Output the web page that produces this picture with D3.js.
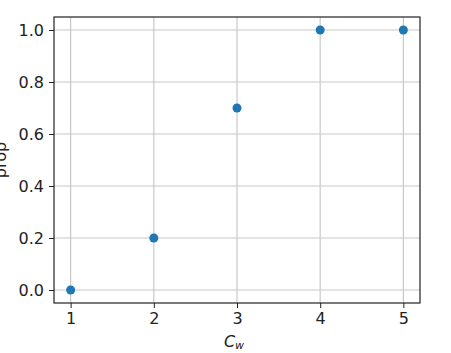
<!DOCTYPE html>
<html>
<head>
<meta charset="utf-8">
<script src="https://cdn.jsdelivr.net/npm/d3@7"></script>
<style>
  body { margin: 0; background: #fff; }
  text { font-family: "DejaVu Sans", sans-serif; }
</style>
</head>
<body>
<svg id="chart"></svg>
<script>
// data
const cwValues = [1, 2, 3, 4, 5];
const propValues = [0.0, 0.2, 0.7, 1.0, 1.0];
const xTicks = [1, 2, 3, 4, 5];
const yTicks = [0.0, 0.2, 0.4, 0.6, 0.8, 1.0];

const width = 451, height = 353;
const margin = {top: 17, right: 31, bottom: 50, left: 54};
const innerW = width - margin.left - margin.right;
const innerH = height - margin.top - margin.bottom;

const svg = d3.select('#chart')
    .attr('width', width)
    .attr('height', height);

const g = svg.append('g')
    .attr('transform', `translate(${margin.left},${margin.top})`);

const x = d3.scaleLinear().domain([0.8, 5.2]).range([0, innerW]);
const y = d3.scaleLinear().domain([-0.05, 1.05]).range([innerH, 0]);

// grid lines
g.append('g').selectAll('line')
    .data(xTicks)
    .join('line')
    .attr('x1', d => x(d)).attr('x2', d => x(d))
    .attr('y1', 0).attr('y2', innerH)
    .attr('stroke', '#c8c8c8').attr('stroke-width', 1.2);

g.append('g').selectAll('line')
    .data(yTicks)
    .join('line')
    .attr('x1', 0).attr('x2', innerW)
    .attr('y1', d => y(d)).attr('y2', d => y(d))
    .attr('stroke', '#c8c8c8').attr('stroke-width', 1.2);

// axes
const xAxis = d3.axisBottom(x).tickValues(xTicks).tickSize(5).tickPadding(5)
    .tickFormat(d3.format('d'));
const yAxis = d3.axisLeft(y).tickValues(yTicks).tickSize(5).tickPadding(5)
    .tickFormat(d3.format('.1f'));

const xg = g.append('g').attr('transform', `translate(0,${innerH})`).call(xAxis);
const yg = g.append('g').call(yAxis);
[xg, yg].forEach(a => {
    a.select('.domain').remove();
    a.selectAll('text').style('font-size', '16px').attr('fill', '#222');
    a.selectAll('line').attr('stroke', '#222');
});

// frame
g.append('rect')
    .attr('width', innerW).attr('height', innerH)
    .attr('fill', 'none').attr('stroke', '#222').attr('stroke-width', 1.2);

// points
g.selectAll('.pt')
    .data(cwValues.map((c, i) => ({c, p: propValues[i]})))
    .join('circle')
    .attr('class', 'pt')
    .attr('cx', d => x(d.c))
    .attr('cy', d => y(d.p))
    .attr('r', 4.5)
    .attr('fill', '#1f77b4');

// labels
const xl = svg.append('text')
    .attr('x', margin.left + innerW / 2 - 3)
    .attr('y', 347)
    .attr('text-anchor', 'middle')
    .style('font-size', '16px')
    .attr('fill', '#222');
xl.append('tspan').style('font-style', 'italic').text('C');
xl.append('tspan').style('font-style', 'italic').style('font-size', '11px')
    .attr('dy', 2).text('w');

svg.append('text')
    .attr('transform', `translate(6,${margin.top + innerH / 2}) rotate(-90)`)
    .attr('text-anchor', 'middle')
    .style('font-size', '16px')
    .attr('fill', '#222')
    .text('prop');
</script>
</body>
</html>
